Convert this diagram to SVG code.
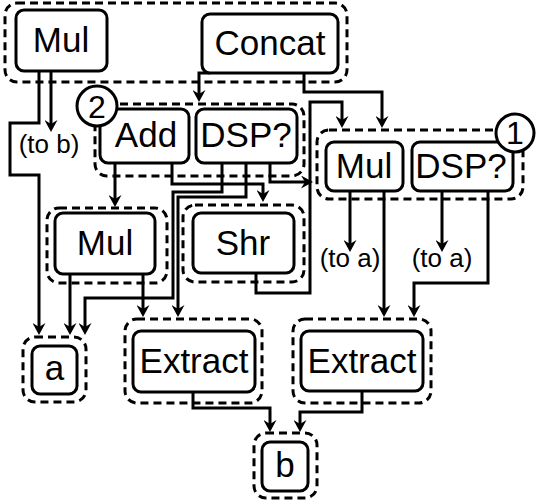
<svg xmlns="http://www.w3.org/2000/svg" width="540" height="501" viewBox="0 0 540 501">
<defs>
<marker id="arr" markerUnits="userSpaceOnUse" markerWidth="12" markerHeight="13" viewBox="0 0 12 13" refX="4" refY="6.5" orient="auto">
<path d="M0,0 L12,6.5 L0,13 L4,6.5 Z" fill="#000"/>
</marker>
<style>
.grp{fill:none;stroke:#000;stroke-width:3;stroke-dasharray:8 5}
.box{fill:#fff;stroke:#000;stroke-width:3}
.lbl{font-family:"Liberation Sans",Arial,sans-serif;font-size:35px;text-anchor:middle;fill:#000}
.sm{font-family:"Liberation Sans",Arial,sans-serif;font-size:26px;text-anchor:middle;fill:#000}
.num{font-family:"Liberation Sans",Arial,sans-serif;font-size:32px;text-anchor:middle;fill:#000}
.c path{fill:none;stroke:#000;stroke-width:3;marker-end:url(#arr)}
.c path.n{marker-end:none}
</style>
</defs>
<rect width="540" height="501" fill="#fff"/>

<g id="groups">
<rect class="grp" x="5" y="3" width="342" height="79" rx="12"/>
<rect class="grp" x="95" y="104" width="209" height="72" rx="12"/>
<rect class="grp" x="317" y="130" width="206" height="69" rx="12"/>
<rect class="grp" x="47" y="208" width="120" height="75" rx="12"/>
<rect class="grp" x="183" y="205" width="121" height="77" rx="12"/>
<rect class="grp" x="23" y="337" width="63" height="65" rx="12"/>
<rect class="grp" x="125" y="319" width="137" height="84" rx="12"/>
<rect class="grp" x="293" y="319" width="138" height="84" rx="12"/>
<rect class="grp" x="254" y="433" width="63" height="65" rx="12"/>
</g>

<g id="connectors" class="c">
<path d="M39,71 V123 H10 V175 H39 V327"/>
<path d="M51,71 V124"/>
<path d="M210,73 H199 V94"/>
<path d="M304,73 V92 H382 V120"/>
<path d="M115,163 V199"/>
<path d="M172,163 V184 H263 V194"/>
<path d="M222,163 V192 H173 V298 H85 V327"/>
<path d="M246,163 V197 H178 V309"/>
<path d="M270,163 V182 H305"/>
<path d="M256,273 V293 H310 V102 H342 V120"/>
<path d="M70,274 V327"/>
<path d="M143,274 V309"/>
<path d="M350,191 V244"/>
<path d="M384,191 V309"/>
<path d="M442,191 V244"/>
<path d="M488,191 V283 H414 V309"/>
<path d="M193,392 V408 H270 V424"/>
<path d="M362,391 V412 H300 V424"/>
</g>

<g id="mul_top"><rect class="box" x="16" y="10" width="91" height="61" rx="8"/><text class="lbl" x="61" y="52">Mul</text></g>
<g id="concat"><rect class="box" x="202" y="14" width="136" height="59" rx="8"/><text class="lbl" x="270" y="55">Concat</text></g>
<g id="add"><rect class="box" x="100" y="109" width="89" height="54" rx="8"/><text class="lbl" x="146" y="147">Add</text></g>
<g id="dsp2"><rect class="box" x="196" y="109" width="101" height="54" rx="8"/><text class="lbl" x="246" y="147">DSP?</text></g>
<g id="mul1"><rect class="box" x="326" y="142" width="77" height="49" rx="8"/><text class="lbl" x="364" y="178">Mul</text></g>
<g id="dsp1"><rect class="box" x="412" y="142" width="101" height="49" rx="8"/><text class="lbl" x="461" y="178">DSP?</text></g>
<g id="mul3"><rect class="box" x="55" y="213" width="100" height="61" rx="8"/><text class="lbl" x="105" y="255">Mul</text></g>
<g id="shr"><rect class="box" x="193" y="213" width="101" height="60" rx="8"/><text class="lbl" x="243" y="255">Shr</text></g>
<g id="extract1"><rect class="box" x="133" y="331" width="122" height="61" rx="8"/><text class="lbl" x="194" y="373">Extract</text></g>
<g id="extract2"><rect class="box" x="301" y="331" width="122" height="60" rx="8"/><text class="lbl" x="362" y="373">Extract</text></g>
<g id="a"><rect class="box" x="32" y="346" width="45" height="48" rx="8"/><text class="lbl" x="54.5" y="380">a</text></g>
<g id="b"><rect class="box" x="262" y="442" width="46" height="49" rx="8"/><text class="lbl" x="285" y="477">b</text></g>

<g id="label_to_b"><text class="sm" x="49" y="153">(to b)</text></g>
<g id="label_to_a1"><text class="sm" x="350" y="267">(to a)</text></g>
<g id="label_to_a2"><text class="sm" x="442" y="267">(to a)</text></g>

<g id="badge2"><circle cx="97" cy="106" r="20" fill="#fff" stroke="#000" stroke-width="3"/><text class="num" x="97" y="118">2</text></g>
<g id="badge1"><circle cx="515" cy="133" r="19" fill="#fff" stroke="#000" stroke-width="3"/><text class="num" x="515" y="144">1</text></g>
</svg>
